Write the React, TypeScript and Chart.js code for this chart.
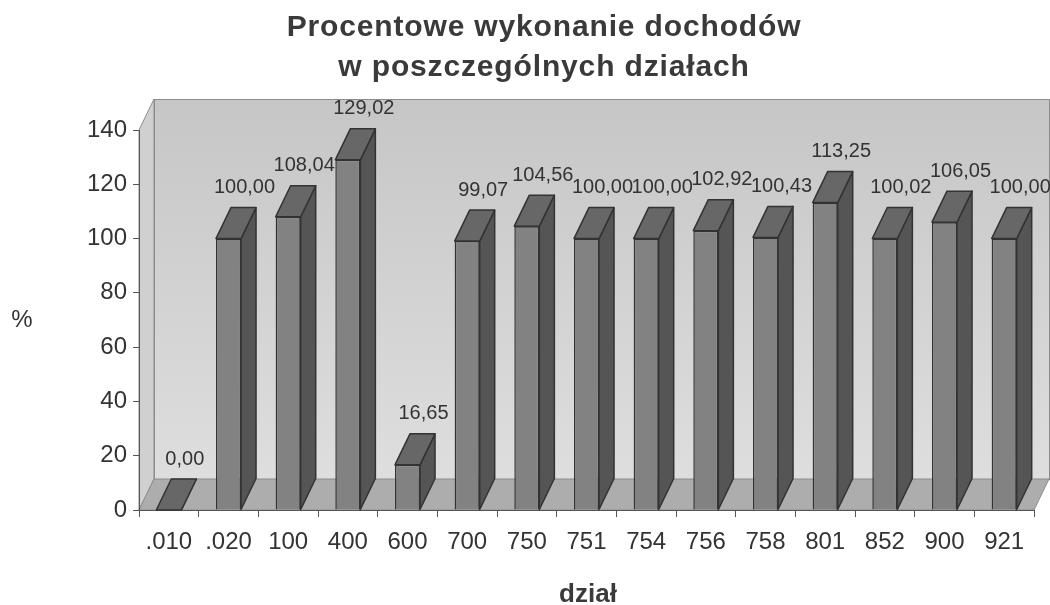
import React, { useEffect, useRef } from 'react';
import { Chart, registerables } from 'chart.js';

Chart.register(...registerables);

const categories = ['.010', '.020', '100', '400', '600', '700', '750', '751', '754', '756', '758', '801', '852', '900', '921'];
const values = [0, 100, 108.04, 129.02, 16.65, 99.07, 104.56, 100, 100, 102.92, 100.43, 113.25, 100.02, 106.05, 100];
const titleLines = ['Procentowe wykonanie dochodów', 'w poszczególnych działach'];
const yAxisTitle = '%';
const xAxisTitle = 'dział';
const yMin = 0;
const yMax = 140;
const yStep = 20;

const FONT = '"Liberation Sans", Arial, sans-serif';
const DX = 15;
const DY = -31;

const fmt = (v: number) => v.toFixed(2).replace('.', ',');

const scenePlugin = {
  id: 'scene3d',
  beforeDraw(chart: any) {
    const { ctx, chartArea: a } = chart;
    ctx.save();
    ctx.lineWidth = 1;
    // back wall
    const grad = ctx.createLinearGradient(0, a.top + DY, 0, a.bottom + DY);
    grad.addColorStop(0, '#c6c6c6');
    grad.addColorStop(1, '#dedede');
    ctx.fillStyle = grad;
    ctx.fillRect(a.left + DX, a.top + DY, a.right - a.left, a.bottom - a.top);
    ctx.strokeStyle = '#8c8c8c';
    ctx.strokeRect(a.left + DX + 0.5, a.top + DY + 0.5, a.right - a.left, a.bottom - a.top);
    // left side wall
    ctx.beginPath();
    ctx.moveTo(a.left, a.bottom);
    ctx.lineTo(a.left, a.top);
    ctx.lineTo(a.left + DX, a.top + DY);
    ctx.lineTo(a.left + DX, a.bottom + DY);
    ctx.closePath();
    ctx.fillStyle = '#d0d0d0';
    ctx.fill();
    ctx.strokeStyle = '#8c8c8c';
    ctx.stroke();
    // floor
    ctx.beginPath();
    ctx.moveTo(a.left, a.bottom);
    ctx.lineTo(a.right, a.bottom);
    ctx.lineTo(a.right + DX, a.bottom + DY);
    ctx.lineTo(a.left + DX, a.bottom + DY);
    ctx.closePath();
    ctx.fillStyle = '#adadad';
    ctx.fill();
    ctx.strokeStyle = '#8c8c8c';
    ctx.stroke();
    ctx.restore();
  },
  afterDatasetsDraw(chart: any) {
    const { ctx } = chart;
    const meta = chart.getDatasetMeta(0);
    ctx.save();
    ctx.lineWidth = 1.5;
    ctx.strokeStyle = '#333333';
    ctx.lineJoin = 'round';
    meta.data.forEach((bar: any, i: number) => {
      const { x, y, base, width } = bar.getProps(['x', 'y', 'base', 'width'], true);
      const l = x - width / 2;
      const r = x + width / 2;
      // side face
      ctx.beginPath();
      ctx.moveTo(r, y);
      ctx.lineTo(r + DX, y + DY);
      ctx.lineTo(r + DX, base + DY);
      ctx.lineTo(r, base);
      ctx.closePath();
      ctx.fillStyle = '#555555';
      ctx.fill();
      ctx.stroke();
      // top face
      ctx.beginPath();
      ctx.moveTo(l, y);
      ctx.lineTo(r, y);
      ctx.lineTo(r + DX, y + DY);
      ctx.lineTo(l + DX, y + DY);
      ctx.closePath();
      ctx.fillStyle = '#676767';
      ctx.fill();
      ctx.stroke();
      // value label
      ctx.fillStyle = '#333333';
      ctx.font = `20px ${FONT}`;
      ctx.textAlign = 'center';
      ctx.textBaseline = 'middle';
      ctx.fillText(fmt(values[i]), x + 16, y + DY - 20);
    });
    ctx.restore();
  },
  afterDraw(chart: any) {
    const { ctx } = chart;
    ctx.save();
    ctx.fillStyle = '#3a3a3a';
    ctx.textAlign = 'center';
    ctx.textBaseline = 'middle';
    ctx.font = `bold 30px ${FONT}`;
    (ctx as any).letterSpacing = '0.85px';
    ctx.fillText(titleLines[0], 544, 28);
    ctx.fillText(titleLines[1], 544, 68);
    (ctx as any).letterSpacing = '0px';
    ctx.font = `24px ${FONT}`;
    ctx.fillStyle = '#333333';
    ctx.fillText(yAxisTitle, 22, 320);
    ctx.font = `bold 26px ${FONT}`;
    ctx.fillStyle = '#3a3a3a';
    ctx.fillText(xAxisTitle, 588, 595);
    ctx.restore();
  },
};

export default function App() {
  const ref = useRef<HTMLCanvasElement | null>(null);
  useEffect(() => {
    if (!ref.current) return;
    Chart.defaults.font.family = FONT;
    const chart = new Chart(ref.current, {
      type: 'bar',
      data: {
        labels: categories,
        datasets: [
          {
            data: values,
            backgroundColor: '#828282',
            borderColor: '#333333',
            borderWidth: 1.5,
            categoryPercentage: 1,
            barPercentage: 0.42,
          },
        ],
      },
      options: {
        responsive: false,
        animation: false,
        devicePixelRatio: 1,
        layout: { padding: { top: 130, right: 16, left: 0, bottom: 0 } },
        plugins: {
          legend: { display: false },
          title: { display: false },
          tooltip: { enabled: false },
        },
        scales: {
          x: {
            ticks: { font: { size: 24, family: FONT }, color: '#333333', padding: 11, maxRotation: 0, autoSkip: false },
            grid: { drawOnChartArea: false, drawTicks: true, tickLength: 7, color: '#555555', offset: true },
            border: { display: true, color: '#555555', width: 1 },
            afterFit: (s: any) => {
              s.height = 95;
            },
          },
          y: {
            min: yMin,
            max: yMax,
            ticks: { stepSize: yStep, font: { size: 24, family: FONT }, color: '#333333', padding: 6 },
            grid: { drawOnChartArea: false, drawTicks: true, tickLength: 6, color: '#555555' },
            border: { display: true, color: '#555555', width: 1 },
            afterFit: (s: any) => {
              s.width = 139;
            },
          },
        },
      },
      plugins: [scenePlugin],
    });
    return () => chart.destroy();
  }, []);
  return (
    <div style={{ position: 'fixed', left: 0, top: 0, width: 1050, height: 605, background: '#fff' }}>
      <canvas ref={ref} width={1050} height={605} style={{ display: 'block' }} />
    </div>
  );
}
